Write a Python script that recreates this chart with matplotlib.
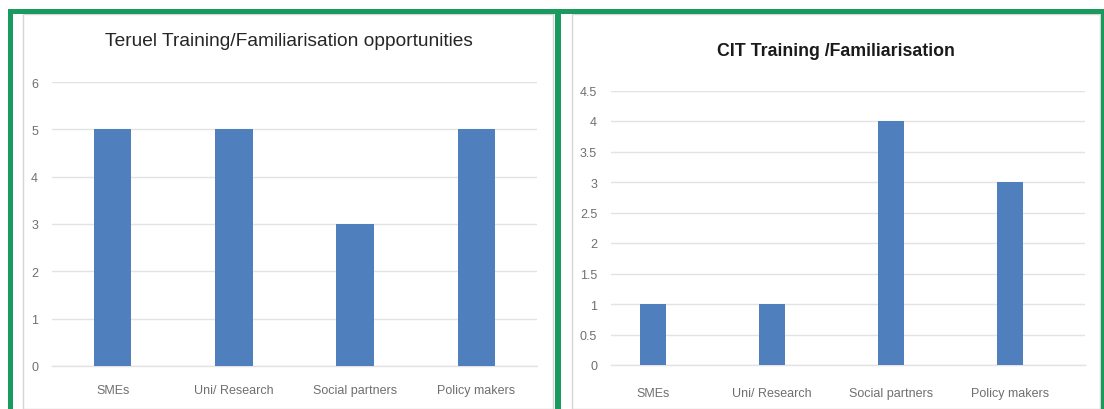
import matplotlib
matplotlib.use("Agg")
import matplotlib.pyplot as plt
from matplotlib.patches import Rectangle

categories = ["SMEs", "Uni/ Research", "Social partners", "Policy makers"]
teruel_values = [5, 5, 3, 5]
cit_values = [1, 1, 4, 3]
teruel_yticks = [0, 1, 2, 3, 4, 5, 6]
cit_yticks = [0, 0.5, 1, 1.5, 2, 2.5, 3, 3.5, 4, 4.5]
cit_ylabels = ["0", "0.5", "1", "1.5", "2", "2.5", "3", "3.5", "4", "4.5"]

W, H = 1104, 410
plt.rcParams['font.family'] = ["Liberation Sans", "DejaVu Sans"]

bar_col = "#4f7fbc"
grid_col = "#e3e3e3"
lab_col = "#6f6f6f"
green = "#1a9a5f"

fig = plt.figure(figsize=(W / 100, H / 100), dpi=100)


def px_axes(x0, x1, ytop, ybot):
    return fig.add_axes([x0 / W, (H - ybot) / H, (x1 - x0) / W, (ybot - ytop) / H])


def style(ax, xpad):
    for s in ax.spines.values():
        s.set_visible(False)
    ax.yaxis.grid(True, color=grid_col, lw=1)
    ax.axhline(0, color=grid_col, lw=1, clip_on=False, zorder=1)
    ax.set_axisbelow(True)
    ax.tick_params(axis="both", length=0, labelsize=9, labelcolor=lab_col)
    ax.tick_params(axis="y", pad=10)
    ax.tick_params(axis="x", pad=xpad)


# chart area frames (light grey)
fig.add_artist(Rectangle((23 / W, 0), (553 - 23) / W, (H - 15) / H,
                         transform=fig.transFigure, fill=False, ec="#d6d6d6", lw=1))
fig.add_artist(Rectangle((572 / W, 0), (1100 - 572) / W, (H - 15) / H,
                         transform=fig.transFigure, fill=False, ec="#d6d6d6", lw=1))

# left chart
ax1 = px_axes(52, 537, 83, 367)
x = range(len(categories))
ax1.bar(x, teruel_values, width=0.31, color=bar_col, zorder=2)
ax1.set_ylim(0, 6)
ax1.set_xlim(-0.5, 3.5)
ax1.set_yticks(teruel_yticks)
ax1.set_xticks(list(x))
ax1.set_xticklabels(categories)
style(ax1, 13)
fig.text(289 / W, 1 - 42 / H, "Teruel Training/Familiarisation opportunities",
         ha="center", va="center", fontsize=13.8, color="#262626")

# right chart
ax2 = px_axes(611, 1085, 91.5, 366)
ax2.bar(x, cit_values, width=0.22, color=bar_col, zorder=2)
ax2.set_ylim(0, 4.5)
ax2.set_xlim(-0.353, 3.63)
ax2.set_yticks(cit_yticks)
ax2.set_yticklabels(cit_ylabels)
ax2.set_xticks(list(x))
ax2.set_xticklabels(categories)
style(ax2, 16)
fig.text(836 / W, 1 - 52 / H, "CIT Training /Familiarisation",
         ha="center", va="center", fontsize=12.8, fontweight="bold", color="#1a1a1a")

# green outline
def green_rect(x0, y0, x1, y1):
    fig.add_artist(Rectangle((x0 / W, 1 - y1 / H), (x1 - x0) / W, (y1 - y0) / H,
                             transform=fig.transFigure, color=green, lw=0))

green_rect(8, 10, 1104, 15)
green_rect(8, 10, 13, 410)
green_rect(555, 10, 561, 410)
green_rect(1101, 10, 1104, 410)

fig.savefig("out.png", dpi=100)
